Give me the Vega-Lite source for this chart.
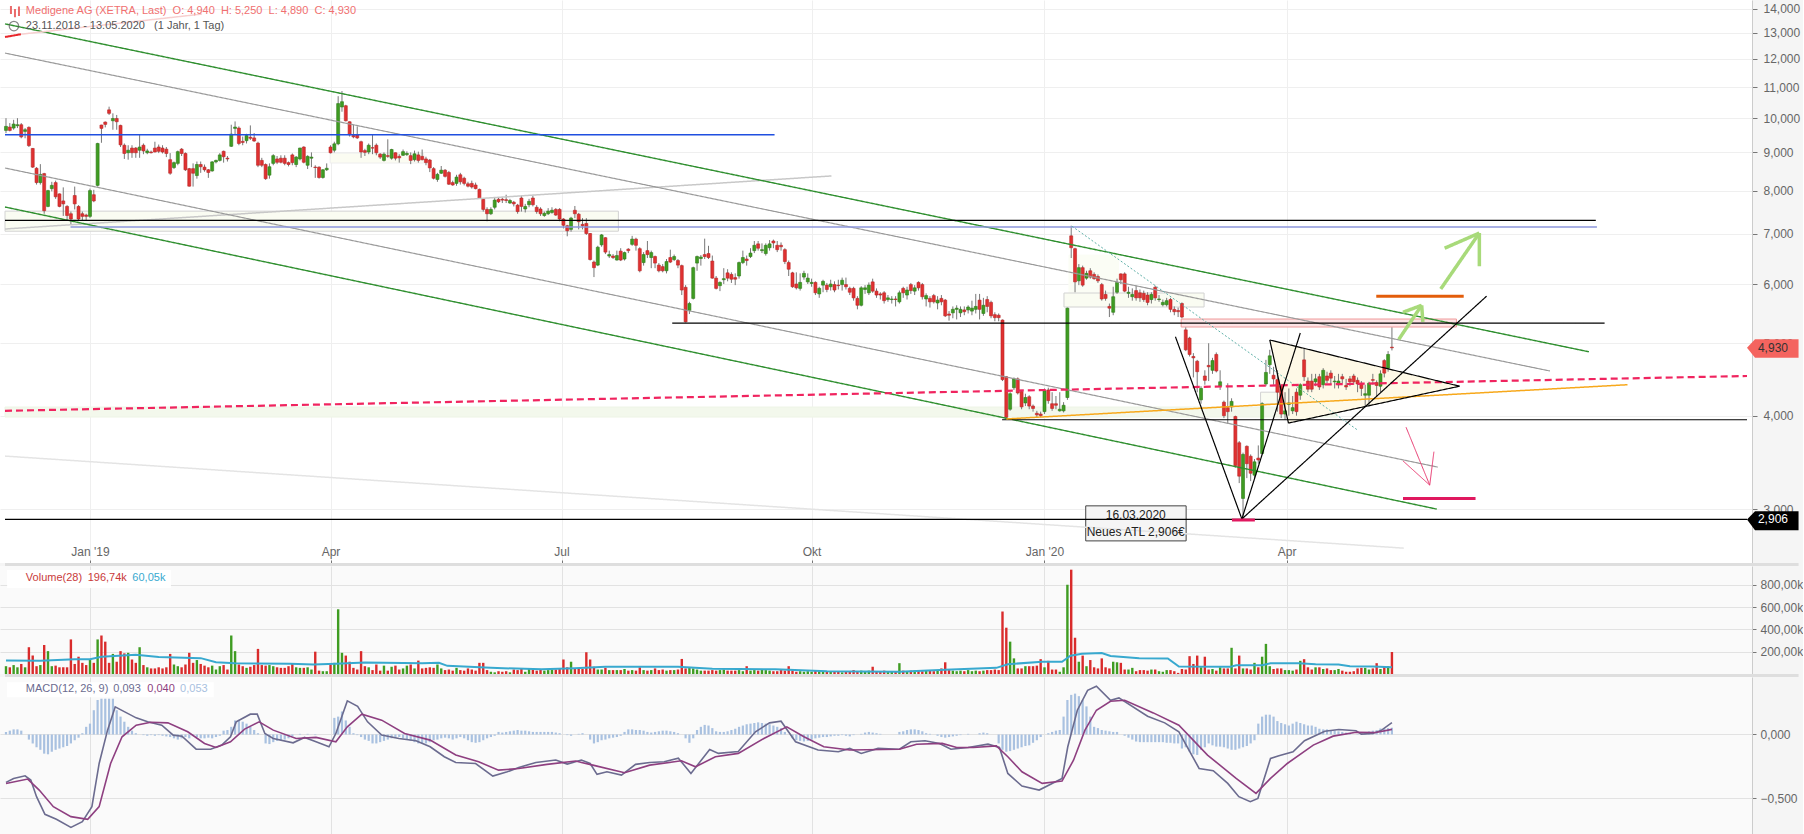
{"$schema":"https://vega.github.io/schema/vega-lite/v6.json","background":"#f5f5f5","padding":0,"spacing":3,"bounds":"flush",
"config":{"font":"Liberation Sans","axis":{"labelFont":"Liberation Sans","labelFontSize":12,"labelColor":"#666","tickColor":"#777","title":null}},
"datasets":{"c":[
{"t":0,"o":9.63,"h":10,"l":9.55,"c":9.75,"v":70,"g":0.02},{"t":1,"o":9.73,"h":9.85,"l":9.6,"c":9.63,"v":60,"g":0.03},{"t":2,"o":9.7,"h":9.95,"l":9.65,"c":9.82,"v":80,"g":0.04},{"t":3,"o":9.77,"h":10,"l":9.7,"c":9.8,"v":60,"g":0.04},{"t":4,"o":9.8,"h":9.85,"l":9.4,"c":9.44,"v":90,"g":0.03},{"t":5,"o":9.6,"h":9.7,"l":9.4,"c":9.65,"v":60,"g":0},{"t":6,"o":9.72,"h":9.75,"l":9.15,"c":9.19,"v":240,"g":-0.04},{"t":7,"o":9.11,"h":9.12,"l":8.58,"c":8.6,"v":165,"g":-0.07},{"t":8,"o":8.57,"h":8.6,"l":8.15,"c":8.2,"v":70,"g":-0.1},{"t":9,"o":8.2,"h":8.68,"l":8.15,"c":8.41,"v":80,"g":-0.12},
{"t":10,"o":8.43,"h":8.45,"l":7.45,"c":7.52,"v":260,"g":-0.15},{"t":11,"o":7.62,"h":8.02,"l":7.6,"c":8,"v":205,"g":-0.155},{"t":12,"o":8.05,"h":8.22,"l":7.98,"c":8.13,"v":70,"g":-0.135},{"t":13,"o":8.2,"h":8.25,"l":7.8,"c":7.85,"v":75,"g":-0.12},{"t":14,"o":7.92,"h":7.93,"l":7.6,"c":7.62,"v":60,"g":-0.11},{"t":15,"o":7.75,"h":8.08,"l":7.4,"c":7.68,"v":60,"g":-0.1},{"t":16,"o":7.62,"h":7.65,"l":7.3,"c":7.41,"v":60,"g":-0.09},{"t":17,"o":7.45,"h":7.5,"l":7.2,"c":7.33,"v":310,"g":-0.07},{"t":18,"o":7.88,"h":8.1,"l":7.55,"c":7.68,"v":90,"g":-0.045},{"t":19,"o":7.62,"h":7.65,"l":7.3,"c":7.33,"v":155,"g":-0.025},
{"t":20,"o":7.45,"h":7.5,"l":7.3,"c":7.39,"v":100,"g":0.01},{"t":21,"o":7.42,"h":7.45,"l":7.3,"c":7.39,"v":80,"g":0.06},{"t":22,"o":7.39,"h":8.05,"l":7.35,"c":8,"v":130,"g":0.085},{"t":23,"o":7.9,"h":8.02,"l":7.72,"c":7.75,"v":100,"g":0.19},{"t":24,"o":8.13,"h":9.27,"l":8.1,"c":9.25,"v":310,"g":0.27},{"t":25,"o":9.79,"h":9.8,"l":9.27,"c":9.69,"v":345,"g":0.28},{"t":26,"o":9.88,"h":9.9,"l":9.72,"c":9.81,"v":290,"g":0.28},{"t":27,"o":10.26,"h":10.36,"l":10.1,"c":10.15,"v":100,"g":0.28},{"t":28,"o":9.92,"h":10.15,"l":9.65,"c":9.99,"v":180,"g":0.28},{"t":29,"o":9.99,"h":10.1,"l":9.65,"c":9.89,"v":110,"g":0.19},
{"t":30,"o":9.78,"h":9.8,"l":9.15,"c":9.21,"v":205,"g":0.14},{"t":31,"o":9.2,"h":9.25,"l":8.82,"c":8.97,"v":185,"g":0.1},{"t":32,"o":8.99,"h":9.2,"l":8.8,"c":9.06,"v":190,"g":0.06},{"t":33,"o":9.12,"h":9.2,"l":8.85,"c":8.99,"v":130,"g":0.03},{"t":34,"o":9.12,"h":9.15,"l":8.85,"c":8.99,"v":100,"g":0.01},{"t":35,"o":9.06,"h":9.5,"l":8.85,"c":9.15,"v":240,"g":0},{"t":36,"o":9.2,"h":9.25,"l":8.95,"c":9.04,"v":80,"g":-0.005},{"t":37,"o":8.99,"h":9.1,"l":8.95,"c":9.04,"v":60,"g":-0.01},{"t":38,"o":9.01,"h":9.05,"l":8.97,"c":8.99,"v":50,"g":-0.005},{"t":39,"o":9.12,"h":9.3,"l":9,"c":9.01,"v":50,"g":-0.01},
{"t":40,"o":9.15,"h":9.22,"l":8.98,"c":9.03,"v":60,"g":-0.005},{"t":41,"o":9.12,"h":9.2,"l":8.97,"c":9.01,"v":50,"g":-0.01},{"t":42,"o":9.09,"h":9.15,"l":8.87,"c":8.97,"v":60,"g":-0.015},{"t":43,"o":8.8,"h":8.98,"l":8.4,"c":8.44,"v":180,"g":-0.02},{"t":44,"o":8.59,"h":8.75,"l":8.55,"c":8.72,"v":85,"g":-0.03},{"t":45,"o":8.7,"h":9.05,"l":8.65,"c":9.02,"v":70,"g":-0.04},{"t":46,"o":9.09,"h":9.12,"l":8.9,"c":8.97,"v":60,"g":-0.03},{"t":47,"o":8.97,"h":9,"l":8.5,"c":8.53,"v":85,"g":-0.02},{"t":48,"o":8.56,"h":8.58,"l":8.1,"c":8.11,"v":190,"g":-0.03},{"t":49,"o":8.56,"h":8.7,"l":8.1,"c":8.44,"v":100,"g":-0.01},
{"t":50,"o":8.38,"h":8.75,"l":8.3,"c":8.67,"v":125,"g":-0.02},{"t":51,"o":8.67,"h":8.75,"l":8.45,"c":8.61,"v":90,"g":-0.03},{"t":52,"o":8.6,"h":8.67,"l":8.48,"c":8.53,"v":75,"g":-0.03},{"t":53,"o":8.53,"h":8.55,"l":8.32,"c":8.46,"v":60,"g":-0.025},{"t":54,"o":8.5,"h":8.76,"l":8.48,"c":8.74,"v":75,"g":-0.03},{"t":55,"o":8.74,"h":8.8,"l":8.7,"c":8.78,"v":40,"g":-0.02},{"t":56,"o":8.78,"h":8.98,"l":8.75,"c":8.93,"v":70,"g":-0.01},{"t":57,"o":9.03,"h":9.05,"l":8.72,"c":8.88,"v":80,"g":0.03},{"t":58,"o":8.84,"h":8.9,"l":8.75,"c":8.82,"v":40,"g":0.035},{"t":59,"o":9.17,"h":9.8,"l":9.15,"c":9.52,"v":345,"g":0.06},
{"t":60,"o":9.69,"h":9.9,"l":9.5,"c":9.73,"v":205,"g":0.11},{"t":61,"o":9.7,"h":9.75,"l":9.2,"c":9.25,"v":85,"g":0.115},{"t":62,"o":9.31,"h":9.45,"l":9.2,"c":9.28,"v":70,"g":0.1},{"t":63,"o":9.33,"h":9.53,"l":9.25,"c":9.48,"v":55,"g":0.085},{"t":64,"o":9.43,"h":9.78,"l":9.35,"c":9.4,"v":65,"g":0.06},{"t":65,"o":9.41,"h":9.55,"l":9.3,"c":9.32,"v":80,"g":0.035},{"t":66,"o":9.26,"h":9.3,"l":8.6,"c":8.65,"v":225,"g":0.01},{"t":67,"o":8.78,"h":8.85,"l":8.6,"c":8.65,"v":80,"g":0},{"t":68,"o":8.67,"h":8.7,"l":8.27,"c":8.3,"v":75,"g":-0.07},{"t":69,"o":8.39,"h":8.7,"l":8.3,"c":8.61,"v":80,"g":-0.075},
{"t":70,"o":8.7,"h":8.95,"l":8.65,"c":8.91,"v":70,"g":-0.06},{"t":71,"o":8.82,"h":8.9,"l":8.68,"c":8.73,"v":60,"g":-0.05},{"t":72,"o":8.84,"h":8.92,"l":8.7,"c":8.73,"v":55,"g":-0.045},{"t":73,"o":8.84,"h":8.92,"l":8.65,"c":8.7,"v":55,"g":-0.04},{"t":74,"o":8.72,"h":8.75,"l":8.62,"c":8.67,"v":70,"g":-0.03},{"t":75,"o":8.93,"h":8.97,"l":8.65,"c":8.72,"v":90,"g":-0.015},{"t":76,"o":8.67,"h":8.9,"l":8.6,"c":8.87,"v":60,"g":0},{"t":77,"o":8.82,"h":9.13,"l":8.78,"c":9.12,"v":55,"g":0.005},{"t":78,"o":9.15,"h":9.17,"l":8.7,"c":8.73,"v":55,"g":0},{"t":79,"o":8.65,"h":8.92,"l":8.55,"c":8.89,"v":60,"g":0.005},
{"t":80,"o":8.84,"h":9,"l":8.6,"c":8.87,"v":40,"g":0},{"t":81,"o":8.6,"h":8.65,"l":8.32,"c":8.59,"v":200,"g":-0.005},{"t":82,"o":8.6,"h":8.62,"l":8.3,"c":8.33,"v":30,"g":0},{"t":83,"o":8.33,"h":8.55,"l":8.3,"c":8.53,"v":25,"g":0},{"t":84,"o":8.53,"h":8.7,"l":8.5,"c":8.57,"v":25,"g":0},{"t":85,"o":9.15,"h":9.2,"l":8.97,"c":8.99,"v":85,"g":0},{"t":86,"o":9.06,"h":9.3,"l":9,"c":9.24,"v":100,"g":0.13},{"t":87,"o":9.24,"h":10.7,"l":9.2,"c":10.46,"v":580,"g":0.14},{"t":88,"o":10.35,"h":10.87,"l":10.2,"c":10.52,"v":190,"g":0.18},{"t":89,"o":10.39,"h":10.42,"l":9.9,"c":9.92,"v":165,"g":0.11},
{"t":90,"o":9.89,"h":9.9,"l":9.45,"c":9.5,"v":110,"g":0.06},{"t":91,"o":9.48,"h":9.8,"l":9.4,"c":9.44,"v":55,"g":0.01},{"t":92,"o":9.5,"h":9.75,"l":9.38,"c":9.41,"v":40,"g":-0.005},{"t":93,"o":9.3,"h":9.33,"l":8.85,"c":9.01,"v":205,"g":-0.02},{"t":94,"o":9.05,"h":9.1,"l":8.9,"c":9,"v":70,"g":-0.04},{"t":95,"o":9.01,"h":9.25,"l":8.95,"c":9.2,"v":60,"g":-0.05},{"t":96,"o":9.13,"h":9.5,"l":8.95,"c":9.12,"v":35,"g":-0.07},{"t":97,"o":9.2,"h":9.25,"l":8.92,"c":8.99,"v":85,"g":-0.07},{"t":98,"o":8.95,"h":8.98,"l":8.82,"c":8.87,"v":30,"g":-0.06},{"t":99,"o":8.78,"h":9,"l":8.75,"c":8.95,"v":75,"g":-0.05},
{"t":100,"o":8.91,"h":9.37,"l":8.85,"c":8.89,"v":30,"g":-0.04},{"t":101,"o":8.84,"h":9.1,"l":8.8,"c":9.08,"v":65,"g":-0.03},{"t":102,"o":8.99,"h":9,"l":8.78,"c":8.84,"v":75,"g":-0.025},{"t":103,"o":8.89,"h":8.95,"l":8.72,"c":8.85,"v":40,"g":-0.02},{"t":104,"o":8.92,"h":9.08,"l":8.9,"c":9.02,"v":50,"g":-0.03},{"t":105,"o":8.94,"h":9.03,"l":8.9,"c":8.97,"v":75,"g":-0.04},{"t":106,"o":8.91,"h":9,"l":8.68,"c":8.78,"v":85,"g":-0.05},{"t":107,"o":8.8,"h":9.05,"l":8.75,"c":8.96,"v":50,"g":-0.06},{"t":108,"o":8.93,"h":9.02,"l":8.72,"c":8.78,"v":120,"g":-0.07},{"t":109,"o":8.89,"h":9.08,"l":8.78,"c":8.8,"v":50,"g":-0.07},
{"t":110,"o":8.82,"h":8.88,"l":8.65,"c":8.72,"v":55,"g":-0.07},{"t":111,"o":8.79,"h":8.82,"l":8.47,"c":8.58,"v":60,"g":-0.06},{"t":112,"o":8.56,"h":8.6,"l":8.28,"c":8.31,"v":55,"g":-0.045},{"t":113,"o":8.28,"h":8.45,"l":8.22,"c":8.41,"v":85,"g":-0.04},{"t":114,"o":8.44,"h":8.63,"l":8.42,"c":8.52,"v":50,"g":-0.03},{"t":115,"o":8.52,"h":8.55,"l":8.33,"c":8.36,"v":35,"g":-0.025},{"t":116,"o":8.46,"h":8.5,"l":8.14,"c":8.16,"v":40,"g":-0.03},{"t":117,"o":8.2,"h":8.25,"l":8.12,"c":8.14,"v":30,"g":-0.04},{"t":118,"o":8.18,"h":8.4,"l":8.12,"c":8.34,"v":55,"g":-0.03},{"t":119,"o":8.4,"h":8.45,"l":8.15,"c":8.22,"v":35,"g":-0.02},
{"t":120,"o":8.31,"h":8.35,"l":8.13,"c":8.18,"v":30,"g":-0.03},{"t":121,"o":8.17,"h":8.22,"l":8.08,"c":8.11,"v":50,"g":-0.045},{"t":122,"o":8.18,"h":8.25,"l":8.05,"c":8.09,"v":40,"g":-0.06},{"t":123,"o":8.14,"h":8.2,"l":8.03,"c":8.05,"v":30,"g":-0.065},{"t":124,"o":8.03,"h":8.05,"l":7.8,"c":7.81,"v":100,"g":-0.06},{"t":125,"o":7.79,"h":7.8,"l":7.5,"c":7.55,"v":100,"g":-0.045},{"t":126,"o":7.55,"h":7.6,"l":7.28,"c":7.45,"v":35,"g":-0.03},{"t":127,"o":7.45,"h":7.6,"l":7.42,"c":7.55,"v":20,"g":-0.02},{"t":128,"o":7.6,"h":7.82,"l":7.55,"c":7.77,"v":15,"g":-0.01},{"t":129,"o":7.79,"h":7.83,"l":7.7,"c":7.73,"v":25,"g":0.02},
{"t":130,"o":7.79,"h":7.83,"l":7.7,"c":7.77,"v":20,"g":0.015},{"t":131,"o":7.78,"h":7.9,"l":7.7,"c":7.76,"v":25,"g":0.02},{"t":132,"o":7.7,"h":7.8,"l":7.68,"c":7.76,"v":15,"g":0.025},{"t":133,"o":7.72,"h":7.75,"l":7.62,"c":7.68,"v":40,"g":0.03},{"t":134,"o":7.65,"h":7.68,"l":7.45,"c":7.5,"v":35,"g":0.035},{"t":135,"o":7.82,"h":7.88,"l":7.5,"c":7.62,"v":45,"g":0.03},{"t":136,"o":7.56,"h":7.68,"l":7.48,"c":7.62,"v":20,"g":0.03},{"t":137,"o":7.66,"h":7.8,"l":7.6,"c":7.74,"v":45,"g":0.025},{"t":138,"o":7.82,"h":7.88,"l":7.62,"c":7.66,"v":50,"g":0.02},{"t":139,"o":7.6,"h":7.65,"l":7.45,"c":7.5,"v":30,"g":0.02},
{"t":140,"o":7.56,"h":7.6,"l":7.4,"c":7.45,"v":40,"g":0.02},{"t":141,"o":7.41,"h":7.5,"l":7.38,"c":7.46,"v":30,"g":0.02},{"t":142,"o":7.45,"h":7.58,"l":7.42,"c":7.51,"v":35,"g":0.02},{"t":143,"o":7.48,"h":7.6,"l":7.45,"c":7.53,"v":40,"g":0.02},{"t":144,"o":7.55,"h":7.58,"l":7.4,"c":7.42,"v":40,"g":0.015},{"t":145,"o":7.55,"h":7.58,"l":7.28,"c":7.33,"v":45,"g":0.01},{"t":146,"o":7.33,"h":7.35,"l":7.12,"c":7.19,"v":130,"g":0},{"t":147,"o":7.18,"h":7.2,"l":6.95,"c":7.07,"v":60,"g":-0.005},{"t":148,"o":7.1,"h":7.38,"l":7.05,"c":7.35,"v":110,"g":-0.01},{"t":149,"o":7.53,"h":7.63,"l":7.35,"c":7.45,"v":50,"g":0},
{"t":150,"o":7.44,"h":7.47,"l":7.1,"c":7.27,"v":50,"g":0.005},{"t":151,"o":7.21,"h":7.35,"l":7.1,"c":7.18,"v":45,"g":0.01},{"t":152,"o":7.23,"h":7.35,"l":6.98,"c":7.01,"v":195,"g":0},{"t":153,"o":7.01,"h":7.02,"l":6.45,"c":6.47,"v":130,"g":-0.04},{"t":154,"o":6.42,"h":6.45,"l":6.13,"c":6.31,"v":65,"g":-0.07},{"t":155,"o":6.36,"h":6.75,"l":6.34,"c":6.72,"v":40,"g":-0.06},{"t":156,"o":6.77,"h":7,"l":6.73,"c":6.98,"v":40,"g":-0.045},{"t":157,"o":6.92,"h":6.93,"l":6.58,"c":6.62,"v":55,"g":-0.04},{"t":158,"o":6.54,"h":6.65,"l":6.5,"c":6.57,"v":35,"g":-0.03},{"t":159,"o":6.54,"h":6.58,"l":6.48,"c":6.51,"v":35,"g":-0.025},
{"t":160,"o":6.46,"h":6.65,"l":6.45,"c":6.55,"v":35,"g":-0.02},{"t":161,"o":6.64,"h":6.7,"l":6.44,"c":6.46,"v":35,"g":-0.01},{"t":162,"o":6.48,"h":6.63,"l":6.45,"c":6.61,"v":45,"g":0.02},{"t":163,"o":6.68,"h":6.7,"l":6.6,"c":6.65,"v":30,"g":0.04},{"t":164,"o":6.78,"h":6.96,"l":6.75,"c":6.89,"v":35,"g":0.04},{"t":165,"o":6.89,"h":6.92,"l":6.65,"c":6.76,"v":30,"g":0.035},{"t":166,"o":6.69,"h":6.72,"l":6.22,"c":6.25,"v":60,"g":0.035},{"t":167,"o":6.41,"h":6.62,"l":6.35,"c":6.57,"v":35,"g":0.03},{"t":168,"o":6.65,"h":6.85,"l":6.5,"c":6.57,"v":30,"g":0.02},{"t":169,"o":6.51,"h":6.65,"l":6.3,"c":6.61,"v":35,"g":0.015},
{"t":170,"o":6.53,"h":6.55,"l":6.3,"c":6.4,"v":50,"g":0.02},{"t":171,"o":6.36,"h":6.4,"l":6.22,"c":6.25,"v":35,"g":0.025},{"t":172,"o":6.33,"h":6.38,"l":6.22,"c":6.25,"v":40,"g":0.03},{"t":173,"o":6.25,"h":6.48,"l":6.2,"c":6.43,"v":30,"g":0.03},{"t":174,"o":6.51,"h":6.67,"l":6.4,"c":6.42,"v":35,"g":0.025},{"t":175,"o":6.47,"h":6.57,"l":6.44,"c":6.53,"v":35,"g":0.02},{"t":176,"o":6.45,"h":6.48,"l":6.3,"c":6.36,"v":40,"g":0.01},{"t":177,"o":6.35,"h":6.37,"l":5.8,"c":5.89,"v":135,"g":0},{"t":178,"o":5.94,"h":5.98,"l":5.33,"c":5.34,"v":50,"g":-0.03},{"t":179,"o":5.53,"h":5.68,"l":5.47,"c":5.65,"v":55,"g":-0.065},
{"t":180,"o":5.74,"h":6.33,"l":5.72,"c":6.31,"v":50,"g":-0.03},{"t":181,"o":6.4,"h":6.55,"l":6.25,"c":6.53,"v":40,"g":0.035},{"t":182,"o":6.49,"h":6.56,"l":6.35,"c":6.52,"v":30,"g":0.06},{"t":183,"o":6.57,"h":6.9,"l":6.48,"c":6.53,"v":30,"g":0.075},{"t":184,"o":6.59,"h":6.75,"l":6.48,"c":6.51,"v":30,"g":0.07},{"t":185,"o":6.44,"h":6.55,"l":6.1,"c":6.11,"v":35,"g":0.05},{"t":186,"o":6.11,"h":6.15,"l":5.9,"c":5.92,"v":30,"g":0.025},{"t":187,"o":5.97,"h":6.05,"l":5.87,"c":6.03,"v":35,"g":0.02},{"t":188,"o":6.08,"h":6.3,"l":6,"c":6.1,"v":40,"g":0.02},{"t":189,"o":6.21,"h":6.28,"l":6.05,"c":6.11,"v":30,"g":0.025},
{"t":190,"o":6.18,"h":6.22,"l":6.02,"c":6.09,"v":30,"g":0.035},{"t":191,"o":6.12,"h":6.2,"l":5.98,"c":6.09,"v":30,"g":0.045},{"t":192,"o":6.15,"h":6.43,"l":6.1,"c":6.41,"v":35,"g":0.06},{"t":193,"o":6.41,"h":6.65,"l":6.38,"c":6.51,"v":25,"g":0.07},{"t":194,"o":6.48,"h":6.55,"l":6.35,"c":6.45,"v":70,"g":0.08},{"t":195,"o":6.53,"h":6.7,"l":6.5,"c":6.6,"v":30,"g":0.085},{"t":196,"o":6.65,"h":6.85,"l":6.6,"c":6.76,"v":35,"g":0.09},{"t":197,"o":6.79,"h":6.85,"l":6.65,"c":6.7,"v":30,"g":0.095},{"t":198,"o":6.65,"h":6.8,"l":6.6,"c":6.67,"v":40,"g":0.09},{"t":199,"o":6.59,"h":6.8,"l":6.55,"c":6.76,"v":35,"g":0.085},
{"t":200,"o":6.71,"h":6.87,"l":6.65,"c":6.79,"v":30,"g":0.08},{"t":201,"o":6.85,"h":6.88,"l":6.7,"c":6.81,"v":25,"g":0.07},{"t":202,"o":6.76,"h":6.85,"l":6.62,"c":6.67,"v":25,"g":0.06},{"t":203,"o":6.76,"h":6.82,"l":6.65,"c":6.73,"v":35,"g":0.05},{"t":204,"o":6.67,"h":6.7,"l":6.38,"c":6.43,"v":30,"g":0.02},{"t":205,"o":6.41,"h":6.45,"l":6.15,"c":6.28,"v":70,"g":0},{"t":206,"o":6.21,"h":6.23,"l":5.93,"c":5.95,"v":30,"g":-0.03},{"t":207,"o":6,"h":6.22,"l":5.9,"c":5.93,"v":20,"g":-0.045},{"t":208,"o":5.92,"h":6.2,"l":5.88,"c":6.03,"v":25,"g":-0.05},{"t":209,"o":6.13,"h":6.25,"l":6.08,"c":6.2,"v":20,"g":-0.055},
{"t":210,"o":6.04,"h":6.2,"l":6,"c":6.11,"v":25,"g":-0.05},{"t":211,"o":6.01,"h":6.1,"l":5.95,"c":6.03,"v":20,"g":-0.04},{"t":212,"o":6.03,"h":6.05,"l":5.8,"c":5.84,"v":30,"g":-0.03},{"t":213,"o":5.82,"h":5.95,"l":5.75,"c":5.92,"v":25,"g":-0.025},{"t":214,"o":5.98,"h":6.08,"l":5.85,"c":6.05,"v":20,"g":-0.02},{"t":215,"o":5.98,"h":6.02,"l":5.85,"c":5.9,"v":25,"g":-0.02},{"t":216,"o":5.95,"h":6.08,"l":5.88,"c":6,"v":20,"g":-0.015},{"t":217,"o":5.99,"h":6.05,"l":5.85,"c":5.89,"v":25,"g":-0.01},{"t":218,"o":5.98,"h":6.08,"l":5.9,"c":5.97,"v":20,"g":-0.01},{"t":219,"o":5.99,"h":6.12,"l":5.88,"c":6.07,"v":15,"g":-0.005},
{"t":220,"o":5.99,"h":6.12,"l":5.9,"c":5.95,"v":25,"g":-0.01},{"t":221,"o":5.92,"h":5.95,"l":5.8,"c":5.85,"v":20,"g":-0.015},{"t":222,"o":5.92,"h":5.95,"l":5.7,"c":5.75,"v":35,"g":-0.005},{"t":223,"o":5.74,"h":5.78,"l":5.55,"c":5.62,"v":25,"g":0},{"t":224,"o":5.62,"h":5.96,"l":5.6,"c":5.93,"v":30,"g":0.005},{"t":225,"o":5.9,"h":5.98,"l":5.82,"c":5.93,"v":25,"g":0.015},{"t":226,"o":5.84,"h":6.03,"l":5.8,"c":5.98,"v":30,"g":0.02},{"t":227,"o":6.04,"h":6.1,"l":5.84,"c":5.87,"v":65,"g":0.015},{"t":228,"o":5.87,"h":5.92,"l":5.75,"c":5.8,"v":25,"g":0.01},{"t":229,"o":5.82,"h":5.85,"l":5.72,"c":5.8,"v":20,"g":0.005},
{"t":230,"o":5.84,"h":5.87,"l":5.65,"c":5.7,"v":30,"g":0},{"t":231,"o":5.72,"h":5.8,"l":5.68,"c":5.75,"v":20,"g":0},{"t":232,"o":5.72,"h":5.78,"l":5.65,"c":5.73,"v":20,"g":0},{"t":233,"o":5.73,"h":5.78,"l":5.6,"c":5.72,"v":20,"g":0},{"t":234,"o":5.68,"h":5.88,"l":5.65,"c":5.84,"v":97,"g":0.02},{"t":235,"o":5.92,"h":5.95,"l":5.75,"c":5.84,"v":30,"g":0.025},{"t":236,"o":5.8,"h":5.95,"l":5.72,"c":5.89,"v":25,"g":0.035},{"t":237,"o":5.99,"h":6.02,"l":5.82,"c":5.88,"v":30,"g":0.04},{"t":238,"o":5.87,"h":5.98,"l":5.8,"c":5.93,"v":30,"g":0.04},{"t":239,"o":6.03,"h":6.05,"l":5.88,"c":5.93,"v":35,"g":0.035},
{"t":240,"o":5.99,"h":6.02,"l":5.72,"c":5.77,"v":25,"g":0.025},{"t":241,"o":5.73,"h":5.83,"l":5.6,"c":5.79,"v":35,"g":0.01},{"t":242,"o":5.74,"h":5.78,"l":5.58,"c":5.68,"v":30,"g":0.005},{"t":243,"o":5.79,"h":5.82,"l":5.65,"c":5.68,"v":25,"g":0},{"t":244,"o":5.66,"h":5.78,"l":5.55,"c":5.71,"v":30,"g":-0.01},{"t":245,"o":5.74,"h":5.8,"l":5.62,"c":5.68,"v":50,"g":-0.02},{"t":246,"o":5.71,"h":5.73,"l":5.42,"c":5.44,"v":105,"g":-0.025},{"t":247,"o":5.47,"h":5.52,"l":5.36,"c":5.45,"v":35,"g":-0.02},{"t":248,"o":5.49,"h":5.6,"l":5.4,"c":5.55,"v":30,"g":-0.015},{"t":249,"o":5.55,"h":5.62,"l":5.38,"c":5.57,"v":25,"g":-0.01},
{"t":250,"o":5.49,"h":5.6,"l":5.42,"c":5.55,"v":30,"g":-0.005},{"t":251,"o":5.54,"h":5.6,"l":5.45,"c":5.51,"v":25,"g":0},{"t":252,"o":5.54,"h":5.62,"l":5.48,"c":5.59,"v":35,"g":0.005},{"t":253,"o":5.52,"h":5.7,"l":5.45,"c":5.57,"v":25,"g":0},{"t":254,"o":5.55,"h":5.82,"l":5.48,"c":5.6,"v":30,"g":0},{"t":255,"o":5.71,"h":5.82,"l":5.38,"c":5.55,"v":25,"g":0.01},{"t":256,"o":5.48,"h":5.75,"l":5.44,"c":5.62,"v":30,"g":0.015},{"t":257,"o":5.72,"h":5.78,"l":5.5,"c":5.6,"v":35,"g":0.01},{"t":258,"o":5.67,"h":5.7,"l":5.4,"c":5.44,"v":35,"g":0},{"t":259,"o":5.46,"h":5.5,"l":5.35,"c":5.41,"v":40,"g":0},
{"t":260,"o":5.45,"h":5.48,"l":5.35,"c":5.41,"v":35,"g":-0.07},{"t":261,"o":5.37,"h":5.38,"l":4.45,"c":4.47,"v":560,"g":-0.12},{"t":262,"o":4.51,"h":4.52,"l":3.96,"c":3.98,"v":415,"g":-0.135},{"t":263,"o":4.08,"h":4.3,"l":4.06,"c":4.28,"v":290,"g":-0.13},{"t":264,"o":4.36,"h":4.5,"l":4.33,"c":4.48,"v":140,"g":-0.12},{"t":265,"o":4.48,"h":4.5,"l":4.27,"c":4.29,"v":50,"g":-0.11},{"t":266,"o":4.31,"h":4.33,"l":4.08,"c":4.11,"v":50,"g":-0.1},{"t":267,"o":4.16,"h":4.28,"l":4.12,"c":4.23,"v":70,"g":-0.09},{"t":268,"o":4.24,"h":4.26,"l":4.08,"c":4.12,"v":70,"g":-0.085},{"t":269,"o":4.12,"h":4.14,"l":4.05,"c":4.09,"v":70,"g":-0.065},
{"t":270,"o":4.03,"h":4.06,"l":3.98,"c":4.01,"v":75,"g":-0.045},{"t":271,"o":4.02,"h":4.05,"l":3.98,"c":4,"v":133,"g":-0.02},{"t":272,"o":4.05,"h":4.35,"l":4.02,"c":4.32,"v":60,"g":0},{"t":273,"o":4.33,"h":4.36,"l":4.15,"c":4.19,"v":118,"g":0.01},{"t":274,"o":4.15,"h":4.3,"l":4.06,"c":4.09,"v":40,"g":0.02},{"t":275,"o":4.15,"h":4.25,"l":4.08,"c":4.13,"v":40,"g":0.03},{"t":276,"o":4.06,"h":4.3,"l":4.05,"c":4.08,"v":20,"g":0.035},{"t":277,"o":4.06,"h":4.17,"l":4.04,"c":4.13,"v":60,"g":0.14},{"t":278,"o":4.23,"h":5.58,"l":4.2,"c":5.57,"v":800,"g":0.27},{"t":279,"o":6.96,"h":7.18,"l":6.5,"c":6.71,"v":935,"g":0.31},
{"t":280,"o":6.69,"h":6.71,"l":5.85,"c":6.04,"v":325,"g":0.32},{"t":281,"o":6.06,"h":6.38,"l":5.98,"c":6.31,"v":110,"g":0.3},{"t":282,"o":6.31,"h":6.35,"l":5.95,"c":5.98,"v":165,"g":0.27},{"t":283,"o":6.11,"h":6.25,"l":6.08,"c":6.2,"v":70,"g":0.22},{"t":284,"o":6.25,"h":6.3,"l":6.1,"c":6.13,"v":125,"g":0.14},{"t":285,"o":6.18,"h":6.22,"l":6.08,"c":6.1,"v":60,"g":0.06},{"t":286,"o":6.14,"h":6.18,"l":6.02,"c":6.06,"v":50,"g":0.05},{"t":287,"o":5.99,"h":6.02,"l":5.7,"c":5.73,"v":140,"g":0.035},{"t":288,"o":5.81,"h":5.88,"l":5.7,"c":5.74,"v":60,"g":0.03},{"t":289,"o":5.6,"h":5.65,"l":5.42,"c":5.57,"v":50,"g":0.025},
{"t":290,"o":5.5,"h":5.95,"l":5.45,"c":5.77,"v":110,"g":0.02},{"t":291,"o":5.85,"h":6.1,"l":5.82,"c":6.03,"v":105,"g":0.02},{"t":292,"o":6.19,"h":6.2,"l":6,"c":6.08,"v":100,"g":0},{"t":293,"o":6.19,"h":6.22,"l":5.85,"c":5.87,"v":40,"g":-0.01},{"t":294,"o":5.83,"h":5.95,"l":5.75,"c":5.85,"v":40,"g":-0.025},{"t":295,"o":5.77,"h":5.92,"l":5.7,"c":5.81,"v":55,"g":-0.04},{"t":296,"o":5.88,"h":5.97,"l":5.7,"c":5.75,"v":25,"g":-0.055},{"t":297,"o":5.84,"h":5.9,"l":5.68,"c":5.75,"v":35,"g":-0.06},{"t":298,"o":5.83,"h":5.88,"l":5.68,"c":5.72,"v":35,"g":-0.06},{"t":299,"o":5.8,"h":5.85,"l":5.62,"c":5.67,"v":30,"g":-0.06},
{"t":300,"o":5.72,"h":5.85,"l":5.65,"c":5.81,"v":40,"g":-0.06},{"t":301,"o":5.94,"h":5.97,"l":5.7,"c":5.75,"v":40,"g":-0.06},{"t":302,"o":5.72,"h":5.8,"l":5.68,"c":5.73,"v":25,"g":-0.06},{"t":303,"o":5.63,"h":5.72,"l":5.6,"c":5.67,"v":20,"g":-0.06},{"t":304,"o":5.63,"h":5.75,"l":5.6,"c":5.7,"v":35,"g":-0.065},{"t":305,"o":5.72,"h":5.75,"l":5.5,"c":5.55,"v":35,"g":-0.065},{"t":306,"o":5.55,"h":5.6,"l":5.45,"c":5.51,"v":25,"g":-0.07},{"t":307,"o":5.53,"h":5.58,"l":5.42,"c":5.51,"v":10,"g":-0.07},{"t":308,"o":5.65,"h":5.67,"l":5.4,"c":5.42,"v":45,"g":-0.11},{"t":309,"o":5.21,"h":5.25,"l":4.88,"c":4.9,"v":40,"g":-0.1},
{"t":310,"o":5.08,"h":5.1,"l":4.8,"c":4.83,"v":160,"g":-0.135},{"t":311,"o":4.8,"h":4.85,"l":4.5,"c":4.78,"v":90,"g":-0.155},{"t":312,"o":4.73,"h":4.75,"l":4.3,"c":4.58,"v":165,"g":-0.16},{"t":313,"o":4.2,"h":4.38,"l":4.15,"c":4.35,"v":60,"g":-0.12},{"t":314,"o":4.52,"h":4.6,"l":4.4,"c":4.46,"v":155,"g":-0.1},{"t":315,"o":4.67,"h":5,"l":4.45,"c":4.65,"v":40,"g":-0.07},{"t":316,"o":4.6,"h":4.78,"l":4.55,"c":4.74,"v":45,"g":-0.085},{"t":317,"o":4.83,"h":4.86,"l":4.57,"c":4.59,"v":30,"g":-0.095},{"t":318,"o":4.38,"h":4.6,"l":4.33,"c":4.44,"v":60,"g":-0.095},{"t":319,"o":4.17,"h":4.19,"l":3.97,"c":4,"v":50,"g":-0.1},
{"t":320,"o":4.1,"h":4.42,"l":3.9,"c":4.05,"v":50,"g":-0.11},{"t":321,"o":4.11,"h":4.22,"l":4.05,"c":4.18,"v":235,"g":-0.12},{"t":322,"o":3.99,"h":4,"l":3.41,"c":3.43,"v":50,"g":-0.12},{"t":323,"o":3.68,"h":3.7,"l":3.25,"c":3.32,"v":165,"g":-0.11},{"t":324,"o":3.1,"h":3.57,"l":2.91,"c":3.55,"v":50,"g":-0.1},{"t":325,"o":3.64,"h":3.65,"l":3.3,"c":3.45,"v":50,"g":-0.09},{"t":326,"o":3.53,"h":3.55,"l":3.27,"c":3.35,"v":40,"g":-0.07},{"t":327,"o":3.33,"h":3.5,"l":3.3,"c":3.47,"v":100,"g":-0.045},{"t":328,"o":3.51,"h":3.65,"l":3.45,"c":3.49,"v":60,"g":0.085},{"t":329,"o":3.56,"h":4.17,"l":3.55,"c":4.15,"v":155,"g":0.14},
{"t":330,"o":4.41,"h":4.75,"l":4.38,"c":4.57,"v":270,"g":0.155},{"t":331,"o":4.68,"h":4.9,"l":4.55,"c":4.81,"v":70,"g":0.155},{"t":332,"o":4.53,"h":4.65,"l":4.4,"c":4.48,"v":45,"g":0.14},{"t":333,"o":4.47,"h":4.6,"l":4.05,"c":4.3,"v":50,"g":0.105},{"t":334,"o":4.38,"h":4.4,"l":3.97,"c":4.02,"v":50,"g":0.09},{"t":335,"o":4.02,"h":4.3,"l":3.95,"c":4.06,"v":35,"g":0.08},{"t":336,"o":4.14,"h":4.35,"l":4,"c":4.16,"v":35,"g":0.07},{"t":337,"o":4.06,"h":4.25,"l":4.02,"c":4.1,"v":30,"g":0.085},{"t":338,"o":4.3,"h":4.35,"l":4,"c":4.05,"v":40,"g":0.1},{"t":339,"o":4.26,"h":4.42,"l":4.2,"c":4.4,"v":118,"g":0.09},
{"t":340,"o":4.75,"h":4.93,"l":4.45,"c":4.51,"v":133,"g":0.08},{"t":341,"o":4.45,"h":4.5,"l":4.3,"c":4.34,"v":60,"g":0.07},{"t":342,"o":4.45,"h":4.55,"l":4.3,"c":4.34,"v":40,"g":0.07},{"t":343,"o":4.44,"h":4.55,"l":4.38,"c":4.48,"v":60,"g":0.06},{"t":344,"o":4.51,"h":4.55,"l":4.33,"c":4.37,"v":60,"g":0.045},{"t":345,"o":4.4,"h":4.63,"l":4.35,"c":4.6,"v":45,"g":0.04},{"t":346,"o":4.52,"h":4.58,"l":4.42,"c":4.46,"v":50,"g":0.04},{"t":347,"o":4.56,"h":4.6,"l":4.4,"c":4.49,"v":35,"g":0.035},{"t":348,"o":4.44,"h":4.52,"l":4.35,"c":4.45,"v":35,"g":0.03},{"t":349,"o":4.4,"h":4.55,"l":4.35,"c":4.45,"v":45,"g":0.025},
{"t":350,"o":4.51,"h":4.55,"l":4.42,"c":4.48,"v":30,"g":0.02},{"t":351,"o":4.39,"h":4.48,"l":4.33,"c":4.37,"v":20,"g":0.015},{"t":352,"o":4.48,"h":4.52,"l":4.38,"c":4.44,"v":20,"g":0.01},{"t":353,"o":4.52,"h":4.55,"l":4.4,"c":4.44,"v":25,"g":0},{"t":354,"o":4.46,"h":4.5,"l":4.3,"c":4.41,"v":50,"g":0.003},{"t":355,"o":4.42,"h":4.45,"l":4.25,"c":4.35,"v":55,"g":0.008},{"t":356,"o":4.26,"h":4.4,"l":4.12,"c":4.28,"v":55,"g":0.018},{"t":357,"o":4.26,"h":4.44,"l":4.12,"c":4.42,"v":40,"g":0.024},{"t":358,"o":4.47,"h":4.55,"l":4.4,"c":4.46,"v":50,"g":0.03},{"t":359,"o":4.43,"h":4.46,"l":4.25,"c":4.39,"v":97,"g":0.034},
{"t":360,"o":4.38,"h":4.6,"l":4.3,"c":4.55,"v":45,"g":0.047},{"t":361,"o":4.74,"h":4.76,"l":4.5,"c":4.56,"v":70,"g":0.047},{"t":362,"o":4.63,"h":4.88,"l":4.58,"c":4.83,"v":70,"g":0.05},{"t":363,"o":4.94,"h":5.25,"l":4.89,"c":4.93,"v":197,"g":0.053}
],
"macd":[{"t":0,"m":-0.375},{"t":2,"m":-0.344},{"t":5,"m":-0.323},{"t":6.5,"m":-0.357},{"t":8,"m":-0.487},{"t":10.2,"m":-0.625},{"t":13.2,"m":-0.664},{"t":17,"m":-0.727},{"t":20,"m":-0.682},{"t":22.5,"m":-0.565},{"t":24.4,"m":-0.227},{"t":26.6,"m":0.034},{"t":28.6,"m":0.216},{"t":31.1,"m":0.177},{"t":34.1,"m":0.13},{"t":37.1,"m":0.099},{"t":40.8,"m":0.073},{"t":43.8,"m":-0.005},{"t":46.1,"m":-0.013},{"t":49.8,"m":-0.115},{"t":53.6,"m":-0.115},{"t":56.5,"m":-0.083},{"t":58.8,"m":-0.018},{"t":60.3,"m":0.099},{"t":64,"m":0.159},{"t":65.8,"m":0.159},{"t":67.8,"m":0.008},{"t":70,"m":-0.031},{"t":75.2,"m":-0.065},{"t":78.2,"m":-0.023},{"t":81.2,"m":-0.057},{"t":84.6,"m":-0.096},{"t":86.4,"m":0.008},{"t":89.4,"m":0.263},{"t":92.1,"m":0.221},{"t":94.7,"m":0.099},{"t":98.4,"m":-0.005},{"t":102.9,"m":-0.031},{"t":107.4,"m":-0.049},{"t":111.1,"m":-0.096},{"t":114.8,"m":-0.174},{"t":117.8,"m":-0.219},{"t":123,"m":-0.227},{"t":127.5,"m":-0.326},{"t":131.3,"m":-0.292},{"t":134.3,"m":-0.258},{"t":138.8,"m":-0.219},{"t":144,"m":-0.2},{"t":147,"m":-0.232},{"t":150.7,"m":-0.2},{"t":153,"m":-0.227},{"t":154.8,"m":-0.312},{"t":157.4,"m":-0.292},{"t":161.2,"m":-0.318},{"t":164.9,"m":-0.234},{"t":168.6,"m":-0.219},{"t":172.4,"m":-0.214},{"t":176.1,"m":-0.185},{"t":179.4,"m":-0.305},{"t":184.3,"m":-0.117},{"t":186.6,"m":-0.148},{"t":191.8,"m":-0.133},{"t":196.3,"m":0.021},{"t":200,"m":0.091},{"t":203,"m":0.104},{"t":206.8,"m":-0.057},{"t":212.7,"m":-0.122},{"t":218,"m":-0.135},{"t":221,"m":-0.109},{"t":224,"m":-0.148},{"t":228.4,"m":-0.109},{"t":234,"m":-0.115},{"t":237,"m":-0.057},{"t":240.7,"m":-0.049},{"t":244.5,"m":-0.07},{"t":247.5,"m":-0.115},{"t":252,"m":-0.102},{"t":257.2,"m":-0.076},{"t":260.2,"m":-0.102},{"t":262.4,"m":-0.305},{"t":266.1,"m":-0.404},{"t":270.6,"m":-0.435},{"t":276.6,"m":-0.344},{"t":278.1,"m":-0.096},{"t":280.6,"m":0.19},{"t":283.3,"m":0.346},{"t":285.6,"m":0.378},{"t":289.3,"m":0.268},{"t":291.5,"m":0.286},{"t":299,"m":0.143},{"t":303.5,"m":0.091},{"t":307.2,"m":0.021},{"t":312.5,"m":-0.266},{"t":316.2,"m":-0.284},{"t":320,"m":-0.383},{"t":322.9,"m":-0.487},{"t":325.9,"m":-0.526},{"t":327.9,"m":-0.5},{"t":331.2,"m":-0.188},{"t":333.4,"m":-0.167},{"t":337.1,"m":-0.135},{"t":340.1,"m":-0.049},{"t":345.4,"m":0.026},{"t":349.1,"m":0.039},{"t":353.6,"m":0.029},{"t":355,"m":0.003},{"t":358,"m":0.008},{"t":360.3,"m":0.034},{"t":363,"m":0.093}],
"sig":[{"t":0,"m":-0.383},{"t":5.7,"m":-0.349},{"t":8.7,"m":-0.435},{"t":12.4,"m":-0.565},{"t":17,"m":-0.643},{"t":21.4,"m":-0.664},{"t":24.4,"m":-0.565},{"t":27.4,"m":-0.227},{"t":30.4,"m":-0.018},{"t":34.1,"m":0.073},{"t":37.9,"m":0.096},{"t":42.4,"m":0.091},{"t":47.6,"m":0.021},{"t":52,"m":-0.07},{"t":55,"m":-0.102},{"t":58.8,"m":-0.057},{"t":62.5,"m":0.042},{"t":66.3,"m":0.099},{"t":70,"m":0.034},{"t":76,"m":-0.031},{"t":81.2,"m":-0.023},{"t":86.4,"m":-0.057},{"t":89.4,"m":0.06},{"t":93.2,"m":0.159},{"t":98.4,"m":0.112},{"t":104.4,"m":0.008},{"t":111.1,"m":-0.044},{"t":117.8,"m":-0.161},{"t":123.8,"m":-0.214},{"t":129,"m":-0.279},{"t":134.3,"m":-0.266},{"t":141.7,"m":-0.234},{"t":149.2,"m":-0.208},{"t":153.7,"m":-0.24},{"t":162,"m":-0.299},{"t":168.6,"m":-0.24},{"t":176.9,"m":-0.206},{"t":180.6,"m":-0.253},{"t":185.8,"m":-0.174},{"t":191.8,"m":-0.148},{"t":198.5,"m":-0.031},{"t":204.5,"m":0.06},{"t":209,"m":-0.018},{"t":214.2,"m":-0.096},{"t":221,"m":-0.122},{"t":234,"m":-0.115},{"t":238.5,"m":-0.076},{"t":245.2,"m":-0.07},{"t":249,"m":-0.102},{"t":253.4,"m":-0.102},{"t":259.4,"m":-0.089},{"t":262.4,"m":-0.174},{"t":266.1,"m":-0.292},{"t":271.4,"m":-0.383},{"t":276.6,"m":-0.365},{"t":279.6,"m":-0.201},{"t":282.6,"m":0.034},{"t":285.6,"m":0.19},{"t":289.3,"m":0.26},{"t":293,"m":0.268},{"t":300.5,"m":0.169},{"t":307.2,"m":0.073},{"t":314.7,"m":-0.161},{"t":322.2,"m":-0.344},{"t":327.4,"m":-0.461},{"t":331.2,"m":-0.344},{"t":335.6,"m":-0.227},{"t":342.4,"m":-0.083},{"t":347.6,"m":-0.013},{"t":353.6,"m":0.018},{"t":358.8,"m":0.016},{"t":363,"m":0.04}],
"vma":[{"t":0,"v":121},{"t":9,"v":118},{"t":18,"v":133},{"t":22,"v":133},{"t":25,"v":155},{"t":34,"v":173},{"t":40,"v":152},{"t":51,"v":142},{"t":55,"v":106},{"t":60,"v":97},{"t":74.5,"v":91},{"t":80.5,"v":85},{"t":86.4,"v":91},{"t":94,"v":103},{"t":109,"v":97},{"t":113.4,"v":100},{"t":115.6,"v":73},{"t":127,"v":55},{"t":140.3,"v":42},{"t":149,"v":52},{"t":157,"v":64},{"t":176,"v":64},{"t":185,"v":48},{"t":201.5,"v":42},{"t":215,"v":24},{"t":234,"v":21},{"t":246,"v":39},{"t":259.4,"v":55},{"t":262.4,"v":88},{"t":271.4,"v":109},{"t":276.6,"v":109},{"t":278.8,"v":164},{"t":281.8,"v":182},{"t":287,"v":188},{"t":289.3,"v":161},{"t":296.8,"v":142},{"t":304.3,"v":139},{"t":307.2,"v":67},{"t":320.7,"v":64},{"t":322.2,"v":79},{"t":329,"v":79},{"t":331.2,"v":97},{"t":338.6,"v":97},{"t":343,"v":88},{"t":349,"v":85},{"t":352,"v":70},{"t":358,"v":67},{"t":363,"v":60}],
"segs":[
{"k":"faint","t":-0.26,"p":3.532,"t2":366.1,"p2":2.66},{"k":"rise","t":-0.26,"p":7.108,"t2":216.2,"p2":8.37},
{"k":"grey","t":-0.26,"p":12.22,"t2":404.4,"p2":4.59},{"k":"grey","t":-0.26,"p":8.577,"t2":375,"p2":3.414},
{"k":"chan","t":-0.26,"p":13.37,"t2":414.6,"p2":4.87},{"k":"chan","t":-0.26,"p":7.606,"t2":374.74,"p2":3},
{"k":"blue","t":-0.26,"p":9.5,"t2":201.3,"p2":9.5},{"k":"peri","t":16.9,"p":7.15,"t2":416.7,"p2":7.15},
{"k":"black","t":-0.26,"p":7.3,"t2":416.4,"p2":7.3},{"k":"black","t":174.5,"p":5.32,"t2":418.7,"p2":5.32},{"k":"black","t":260.9,"p":3.95,"t2":456,"p2":3.95},{"k":"black","t":-0.26,"p":2.906,"t2":456,"p2":2.906},
{"k":"orange","t":262,"p":3.96,"t2":424.7,"p2":4.4},{"k":"teal","t":279.2,"p":7.17,"t2":353.9,"p2":3.83},{"k":"dash","t":-0.26,"p":4.06,"t2":456,"p2":4.52},
{"k":"black","t":331,"p":5.05,"t2":380.7,"p2":4.38},{"k":"black","t":335.9,"p":3.91,"t2":380.7,"p2":4.38},{"k":"black","t":331,"p":5.05,"t2":335.9,"p2":3.91},
{"k":"black","t":323.7,"p":2.91,"t2":306.3,"p2":5.1},{"k":"black","t":323.7,"p":2.91,"t2":339,"p2":5.16},{"k":"black","t":323.7,"p":2.91,"t2":387.8,"p2":5.78},
{"k":"thick","t":358.9,"p":5.78,"t2":381.8,"p2":5.78},{"k":"crim","t":365.9,"p":3.1,"t2":384.9,"p2":3.1},{"k":"crim","t":321.1,"p":2.9,"t2":327.1,"p2":2.9},
{"k":"arrow","t":375.8,"p":5.91,"t2":385.9,"p2":7.02},{"k":"arrow","t":385.9,"p":7.02,"t2":376.8,"p2":6.7},{"k":"arrow","t":385.9,"p":7.02,"t2":385.9,"p2":6.34},
{"k":"arrow","t":364.8,"p":5.06,"t2":370.8,"p2":5.62},{"k":"arrow","t":370.8,"p":5.62,"t2":365.9,"p2":5.5},{"k":"arrow","t":370.8,"p":5.62,"t2":371.1,"p2":5.34},
{"k":"pink","t":366.7,"p":3.86,"t2":372.9,"p2":3.23},{"k":"pink","t":372.9,"p":3.23,"t2":365.9,"p2":3.48},{"k":"pink","t":372.9,"p":3.23,"t2":374,"p2":3.58},
{"k":"pale","t":3.9,"p":12.95,"t2":51.3,"p2":13.78},{"k":"red","t":-0.26,"p":12.84,"t2":3.9,"p2":12.95},
{"k":"icon","t":1.3,"p":14.13,"t2":1.3,"p2":13.78},{"k":"icon","t":2.35,"p":14,"t2":2.35,"p2":13.65},{"k":"icon","t":3.4,"p":14.1,"t2":3.4,"p2":13.7}],
"zones":[
{"k":"low","t":-0.26,"t2":348.7,"p":4.108,"p2":3.983},{"k":"soft","t":-0.26,"t2":160.4,"p":7.51,"p2":7.06},{"k":"mild","t":84.9,"t2":109.4,"p":8.98,"p2":8.71},{"k":"faint","t":278.4,"t2":291.4,"p":6.56,"p2":5.836},{"k":"soft","t":277.1,"t2":313.8,"p":5.836,"p2":5.59},{"k":"soft","t":328.6,"t2":335.7,"p":4.3,"p2":4.146},{"k":"rose","t":307.8,"t2":379.9,"p":5.387,"p2":5.256},{"k":"box","t":282.8,"t2":309.1,"p":3.03,"p2":2.72}],
"shape":[
{"k":"tri","t":331,"p":5.05,"p2":5.05},{"k":"tri","t":335.9,"p":4.98,"p2":3.91},{"k":"tri","t":380.7,"p":4.38,"p2":4.38}],
"badge":[
{"k":"last","t":456,"p":4.93,"p2":4.93},{"k":"last","t":458.1,"p":5.06,"p2":4.78},{"k":"last","t":469.5,"p":5.06,"p2":4.78},
{"k":"atl","t":456,"p":2.906,"p2":2.906},{"k":"atl","t":458.1,"p":2.98,"p2":2.81},{"k":"atl","t":469.5,"p":2.98,"p2":2.81}],
"labels":[
{"k":"title","t":5.2,"p":13.91,"s":"Medigene AG (XETRA, Last)\u00a0\u00a0O: 4,940\u00a0\u00a0H: 5,250\u00a0\u00a0L: 4,890\u00a0\u00a0C: 4,930"},
{"k":"range","t":5.2,"p":13.28,"s":"23.11.2018 - 13.05.2020\u00a0\u00a0\u00a0(1 Jahr, 1 Tag)"}],
"centre":[
{"k":"note","t":295.9,"p":2.945,"s":"16.03.2020"},{"k":"note","t":295.9,"p":2.795,"s":"Neues ATL 2,906€"},{"k":"last","t":462.8,"p":4.93,"s":"4,930"},{"k":"atl","t":462.8,"p":2.906,"s":"2,906"}]
},
"vconcat":[
{"width":1752,"height":563,"view":{"fill":"#ffffff","stroke":null},
"resolve":{"scale":{"color":"independent","fill":"independent","stroke":"independent"}},
"encoding":{
"x":{"field":"t","type":"quantitative","scale":{"domain":[-0.26,456],"nice":false,"zero":false},"axis":{"orient":"bottom","values":[22,85,145.5,211,272,335.4],"labelExpr":"{'22':\"Jan '19\",'85':'Apr','145.5':'Jul','211':'Okt','272':\"Jan '20\",'335.4':'Apr'}[datum.value]","grid":true,"gridColor":"#efefef","domain":false,"tickSize":-3,"labelPadding":-14,"labelBaseline":"top","labelFlush":false,"labelOverlap":false}},
"y":{"field":"p","type":"quantitative","scale":{"type":"log","domain":[2.541,14.39],"nice":false,"zero":false},"axis":{"orient":"right","values":[3,4,5,6,7,8,9,10,11,12,13,14],"labelExpr":"replace(format(datum.value,'.3f'),'.',',')","grid":true,"gridColor":"#efefef","domainColor":"#cccccc","tickSize":5,"labelPadding":6}}},
"layer":[
{"data":{"name":"zones"},"mark":{"type":"rect","clip":true},"encoding":{"x2":{"field":"t2"},"y2":{"field":"p2"},
"fill":{"field":"k","scale":{"domain":["low","soft","mild","faint","rose","box"],"range":["#f3f8ec","#fafcf2","#fbfcf2","#fbfdf5","#fde3e5","#f5f5f5"]},"legend":null},
"stroke":{"field":"k","scale":{"domain":["low","soft","mild","faint","rose","box"],"range":["#eef4e6","#d2d2d2","#eeeeee","#fbfdf5","#ef9a9a","#444444"]},"legend":null}}},
{"data":{"values":[{"t":-0.26,"t2":469.5,"p":2.541,"p2":2.517}]},"mark":{"type":"rect","color":"#dedede"},"encoding":{"x2":{"field":"t2"},"y2":{"field":"p2"}}},
{"data":{"name":"shape"},"mark":{"type":"area","color":"#fef9e7"},"encoding":{"y2":{"field":"p2"}}},
{"data":{"name":"c"},"mark":{"type":"rule","color":"#777777","strokeWidth":1,"clip":true},"encoding":{"y":{"field":"l","type":"quantitative","scale":{"type":"log","domain":[2.541,14.39],"nice":false,"zero":false},"axis":{"orient":"right","values":[3,4,5,6,7,8,9,10,11,12,13,14],"labelExpr":"replace(format(datum.value,'.3f'),'.',',')","grid":true,"gridColor":"#efefef","domainColor":"#cccccc","tickSize":5,"labelPadding":6}},"y2":{"field":"h"}}},
{"data":{"name":"c"},"mark":{"type":"bar","size":3,"strokeWidth":0.6,"clip":true},"encoding":{"y":{"field":"o","type":"quantitative","scale":{"type":"log","domain":[2.541,14.39],"nice":false,"zero":false},"axis":{"orient":"right","values":[3,4,5,6,7,8,9,10,11,12,13,14],"labelExpr":"replace(format(datum.value,'.3f'),'.',',')","grid":true,"gridColor":"#efefef","domainColor":"#cccccc","tickSize":5,"labelPadding":6}},"y2":{"field":"c"},
"fill":{"condition":{"test":"datum.c>datum.o","value":"#3f9c22"},"value":"#e03131"},"stroke":{"condition":{"test":"datum.c>datum.o","value":"#2d7a18"},"value":"#b92525"}}},
{"data":{"name":"segs"},"mark":{"type":"rule","clip":true},"encoding":{"x2":{"field":"t2"},"y2":{"field":"p2"},
"color":{"field":"k","type":"nominal","scale":{"type":"ordinal","domain":["faint","rise","grey","chan","blue","peri","black","orange","teal","dash","thick","crim","arrow","pink","pale","red","icon"],"range":["#e4e4e4","#c8c8c8","#9a9a9a","#2f8f2f","#1f4fe0","#8d97dc","#000000","#f7a81b","#5fb0a8","#f0245f","#e35d0a","#e0185f","#a8da7a","#e8386f","#f7cfcf","#e8252a","#ea6a6a"]},"legend":null},
"strokeWidth":{"field":"k","type":"nominal","scale":{"type":"ordinal","domain":["faint","rise","grey","chan","blue","peri","black","orange","teal","dash","thick","crim","arrow","pink","pale","red","icon"],"range":[1.5,1.5,1.2,1.4,1.5,1.5,1.2,1.5,1,2.2,3,3,3.5,1,1.5,2,2]},"legend":null},
"strokeDash":{"field":"k","type":"nominal","scale":{"type":"ordinal","domain":["faint","rise","grey","chan","blue","peri","black","orange","teal","dash","thick","crim","arrow","pink","pale","red","icon"],"range":[[1,0],[1,0],[1,0],[1,0],[1,0],[1,0],[1,0],[1,0],[2,2],[7,4],[1,0],[1,0],[1,0],[1,0],[1,0],[1,0],[1,0]]},"legend":null}}},
{"data":{"name":"badge"},"mark":{"type":"area"},"encoding":{"y2":{"field":"p2"},"color":{"field":"k","type":"nominal","scale":{"domain":["last","atl"],"range":["#f4645f","#000000"]},"legend":null}}},
{"data":{"values":[{"t":2.08,"p":13.28}]},"mark":{"type":"point","shape":"circle","size":90,"color":"#555555","strokeWidth":1.2}},
{"data":{"name":"labels"},"mark":{"type":"text","align":"left","baseline":"middle","fontSize":11},"encoding":{"text":{"field":"s"},"color":{"field":"k","type":"nominal","scale":{"domain":["title","range"],"range":["#f07070","#555555"]},"legend":null}}},
{"data":{"name":"centre"},"mark":{"type":"text","align":"center","baseline":"middle","fontSize":12},"encoding":{"text":{"field":"s"},"color":{"field":"k","type":"nominal","scale":{"domain":["note","last","atl"],"range":["#222222","#333333","#ffffff"]},"legend":null},"fontWeight":{"condition":{"test":"datum.k==='atl'","value":"bold"},"value":"normal"}}}
]},
{"width":1752,"height":108,"view":{"fill":"#fafafa","stroke":null},
"resolve":{"scale":{"color":"independent"}},
"encoding":{
"x":{"field":"t","type":"quantitative","scale":{"domain":[-0.26,456],"nice":false,"zero":false},"axis":{"values":[22,85,145.5,211,272,335.4],"labels":false,"ticks":false,"domain":false,"grid":true,"gridColor":"#e2e2e2"}},
"y":{"field":"v","type":"quantitative","stack":null,"scale":{"domain":[0,968],"nice":false},"axis":{"orient":"right","values":[200,400,600,800],"labelExpr":"replace(format(datum.value,'.2f'),'.',',')+'k'","grid":true,"gridColor":"#e2e2e2","domainColor":"#cccccc","tickSize":4,"labelPadding":4}}},
"layer":[
{"data":{"name":"c"},"mark":{"type":"bar","size":2.4,"clip":true},"encoding":{"fill":{"condition":{"test":"datum.c>datum.o","value":"#3f9c22"},"value":"#d92b2b"}}},
{"data":{"name":"vma"},"mark":{"type":"line","color":"#38a9cf","strokeWidth":2,"clip":true}},
{"data":{"values":[{"t":0.3,"t2":43.2,"v":933,"v2":771}]},"mark":{"type":"rect","color":"#ffffff"},"encoding":{"x2":{"field":"t2"},"y2":{"field":"v2"}}},
{"data":{"values":[{"t":5.2,"v":861,"s":"Volume(28)","k":"a"},{"t":21.4,"v":861,"s":"196,74k","k":"a"},{"t":33.1,"v":861,"s":"60,05k","k":"b"}]},"mark":{"type":"text","align":"left","baseline":"middle","fontSize":11},"encoding":{"text":{"field":"s"},"color":{"field":"k","type":"nominal","scale":{"domain":["a","b"],"range":["#c93a3a","#38a9cf"]},"legend":null}}},
{"data":{"values":[{"t":-0.26,"t2":469.5,"v":0,"v2":-27}]},"mark":{"type":"rect","color":"#dedede"},"encoding":{"x2":{"field":"t2"},"y2":{"field":"v2"}}}
]},
{"width":1752,"height":157,"view":{"fill":"#fafafa","stroke":null},
"resolve":{"scale":{"color":"independent"}},
"encoding":{
"x":{"field":"t","type":"quantitative","scale":{"domain":[-0.26,456],"nice":false,"zero":false},"axis":{"values":[22,85,145.5,211,272,335.4],"labels":false,"ticks":false,"domain":false,"grid":true,"gridColor":"#e2e2e2"}},
"y":{"field":"m","type":"quantitative","scale":{"domain":[-0.779,0.45],"nice":false,"zero":false},"axis":{"orient":"right","values":[-0.5,0],"labelExpr":"replace(format(datum.value,'.3f'),'.',',')","grid":true,"gridColor":"#e2e2e2","domainColor":"#cccccc","tickSize":4,"labelPadding":4}}},
"layer":[
{"data":{"name":"c"},"mark":{"type":"bar","size":2.2,"color":"#a9c1e0","clip":true},"encoding":{"y":{"field":"g","type":"quantitative","stack":null,"scale":{"domain":[-0.779,0.45],"nice":false,"zero":false},"axis":{"orient":"right","values":[-0.5,0],"labelExpr":"replace(format(datum.value,'.3f'),'.',',')","grid":true,"gridColor":"#e2e2e2","domainColor":"#cccccc","tickSize":4,"labelPadding":4}}}},
{"data":{"name":"macd"},"mark":{"type":"line","color":"#6b6b8f","strokeWidth":1.6,"clip":true}},
{"data":{"name":"sig"},"mark":{"type":"line","color":"#8e3f80","strokeWidth":1.6,"clip":true}},
{"data":{"values":[{"t":0.26,"t2":54.4,"m":0.409,"m2":0.291}]},"mark":{"type":"rect","color":"#ffffff"},"encoding":{"x2":{"field":"t2"},"y2":{"field":"m2"}}},
{"data":{"values":[{"t":5.2,"m":0.354,"s":"MACD(12, 26, 9)","k":"a"},{"t":28.1,"m":0.354,"s":"0,093","k":"a"},{"t":37,"m":0.354,"s":"0,040","k":"b"},{"t":45.6,"m":0.354,"s":"0,053","k":"c"}]},"mark":{"type":"text","align":"left","baseline":"middle","fontSize":11},"encoding":{"text":{"field":"s"},"color":{"field":"k","type":"nominal","scale":{"domain":["a","b","c"],"range":["#6b6b8f","#8e3f80","#a9c1e0"]},"legend":null}}}
]}
]}
